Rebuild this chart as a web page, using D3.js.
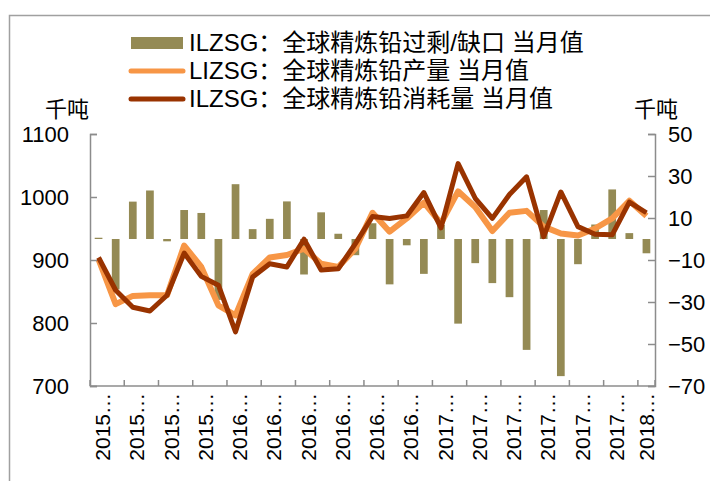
<!DOCTYPE html>
<html>
<head lang="zh">
    <meta charset="UTF-8">
    <title></title>
    <script src="https://cdnjs.cloudflare.com/ajax/libs/d3/7.8.5/d3.min.js"></script>
    <style>
        body { margin: 0; background: #fff; }
        text { font-family: "Liberation Sans", Arial, "Noto Sans CJK SC", sans-serif; fill: #000; }
    </style>
</head>
<body>

<script>

    // months 2015-05 .. 2018-01
    var months = [];
    for (var m = 0; m < 33; m++) {
        var yy = 2015 + Math.floor((m + 4) / 12);
        var mm = (m + 4) % 12 + 1;
        months.push(yy + "-" + (mm < 10 ? "0" + mm : mm));
    }

    // ILZSG balance (right axis, kt)
    var balance = [0.6, -24, 17.8, 23.1, -1.1, 13.8, 12.4, -29, 26.1, 4.7,
                   9.6, 17.9, -16.9, 12.7, 2.5, -7.7, 7.5, -21.6, -3, -16.6,
                   6.7, -40.3, -11.5, -21, -27.7, -52.8, 13.8, -65.3, -12, 6.9,
                   23.6, 2.8, -6.8];

    // production (left axis, kt)
    var production = [901, 830, 843, 844, 844, 923, 889, 828, 812, 878,
                      904, 908, 918, 894, 889, 918, 975, 945, 966, 991,
                      958, 1009, 984, 946, 975, 978, 953, 942, 939, 950,
                      966, 994, 970];

    // consumption (left axis, kt)
    var consumption = [904, 852, 825, 819, 844, 911, 874, 860, 786, 873,
                       894, 889, 933, 884, 886, 926, 969, 966, 970, 1007,
                       951, 1053, 998, 966, 1004, 1032, 937, 1008, 953, 941,
                       940, 992, 975];

    var leftTicks = [700, 800, 900, 1000, 1100];
    var rightTicks = [-70, -50, -30, -10, 10, 30, 50];

    var legendNames = ["ILZSG：全球精炼铅过剩/缺口 当月值",
                       "LIZSG：全球精炼铅产量 当月值",
                       "ILZSG：全球精炼铅消耗量 当月值"];

    var width = 710, height = 481;
    var plotLeft = 90, plotRight = 655, plotTop = 134, plotBottom = 386;
    var axisColor = "#8c8c8c";

    var svg = d3.select("body").append("svg")
            .attr("width", width)
            .attr("height", height);

    // outer frame (only top and left edges fall inside the picture)
    svg.append("rect")
            .attr("x", 9.5).attr("y", 15.5)
            .attr("width", 720).attr("height", 480)
            .attr("fill", "none")
            .attr("stroke", "#a0a0a0")
            .attr("stroke-width", 1.5);

    var x = d3.scaleBand().domain(months).range([plotLeft, plotRight]).paddingInner(0.55).paddingOuter(0.275);
    var xc = d3.scaleBand().domain(months).range([plotLeft, plotRight]).padding(0);
    var yL = d3.scaleLinear().domain([700, 1100]).range([plotBottom, plotTop]);
    var yR = d3.scaleLinear().domain([-70, 50]).range([plotBottom, plotTop]);

    // bars
    svg.selectAll("rect.bar")
            .data(balance)
            .enter()
            .append("rect")
            .attr("class", "bar")
            .attr("x", function(d, i){ return x(months[i]); })
            .attr("width", x.bandwidth())
            .attr("y", function(d){ return yR(Math.max(d, 0)); })
            .attr("height", function(d){ return Math.abs(yR(d) - yR(0)); })
            .attr("fill", "#948A54");

    var line = function(ys){
        return d3.line()
                .x(function(d, i){ return x(months[i]) + x.bandwidth() / 2; })
                .y(function(d){ return ys(d); });
    };

    svg.append("path")
            .attr("d", line(yL)(production))
            .attr("fill", "none")
            .attr("stroke", "#F79646")
            .attr("stroke-width", 6)
            .attr("stroke-linejoin", "round");

    svg.append("path")
            .attr("d", line(yL)(consumption))
            .attr("fill", "none")
            .attr("stroke", "#993300")
            .attr("stroke-width", 5)
            .attr("stroke-linejoin", "round");

    // left axis, ticks pointing inward
    var gl = svg.append("g")
            .attr("transform", "translate(" + plotLeft + ",0)")
            .call(d3.axisLeft(yL).tickValues(leftTicks).tickSize(-7).tickPadding(21).tickFormat(d3.format("d")));

    // right axis
    var gr = svg.append("g")
            .attr("transform", "translate(" + plotRight + ",0)")
            .call(d3.axisRight(yR).tickValues(rightTicks).tickSize(-7).tickPadding(13).tickFormat(d3.format("d")));

    // bottom axis: ticks every two months
    var tickMonths = months.filter(function(d, i){ return i % 2 === 0; });
    var gb = svg.append("g")
            .attr("transform", "translate(0," + plotBottom + ")");
    gb.append("line")
            .attr("x1", plotLeft).attr("x2", plotRight)
            .attr("stroke", axisColor).attr("stroke-width", 1.5);
    gb.selectAll("line.tick")
            .data(tickMonths.concat([null]))
            .enter()
            .append("line")
            .attr("class", "tick")
            .attr("x1", function(d){ return d ? xc(d) : plotRight; })
            .attr("x2", function(d){ return d ? xc(d) : plotRight; })
            .attr("y1", 0).attr("y2", -6)
            .attr("stroke", axisColor).attr("stroke-width", 1.5);

    gb.selectAll("text")
            .data(tickMonths)
            .enter()
            .append("text")
            .attr("transform", function(d){
                var cx = Math.min(xc(d) + xc.bandwidth(), plotRight - 4);
                return "translate(" + (cx + 3) + ",7) rotate(-90)";
            })
            .attr("text-anchor", "end")
            .attr("font-size", 21)
            .text(function(d){ return d.slice(0, 4) + "…"; });

    [gl, gr].forEach(function(g){
        g.select(".domain").attr("stroke", axisColor).attr("stroke-width", 1.5);
        g.selectAll(".tick line").attr("stroke", axisColor).attr("stroke-width", 1.5);
        g.selectAll(".tick text").attr("font-size", 22).attr("font-family", "Liberation Sans, Arial, sans-serif").attr("fill", "#000");
    });

    // unit labels
    svg.append("text").attr("x", 67).attr("y", 117).attr("text-anchor", "middle")
            .attr("font-size", 22).text("千吨");
    svg.append("text").attr("x", 656).attr("y", 117).attr("text-anchor", "middle")
            .attr("font-size", 22).text("千吨");

    // legend
    var lg = svg.append("g");
    var rowY = [43, 71, 99];
    lg.append("rect")
            .attr("x", 131).attr("y", rowY[0] - 6)
            .attr("width", 52).attr("height", 12)
            .attr("fill", "#948A54");
    [["#F79646", 1], ["#993300", 2]].forEach(function(p){
        lg.append("line")
                .attr("x1", 131).attr("x2", 183)
                .attr("y1", rowY[p[1]]).attr("y2", rowY[p[1]])
                .attr("stroke", p[0]).attr("stroke-width", 5)
                .attr("stroke-linecap", "round");
    });
    lg.selectAll("text")
            .data(legendNames)
            .enter()
            .append("text")
            .attr("x", 189)
            .attr("y", function(d, i){ return rowY[i] + 8; })
            .attr("font-size", 24)
            .text(function(d){ return d; });

</script>

</body>
</html>
